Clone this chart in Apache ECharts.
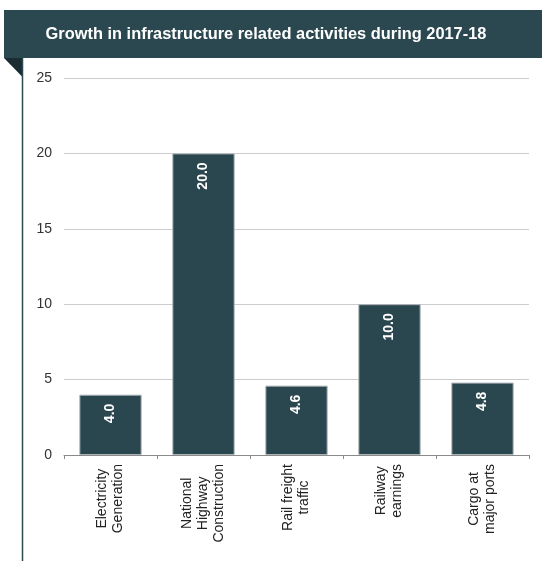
<!DOCTYPE html>
<html>
<head>
<meta charset="utf-8">
<style>
  html, body { margin: 0; padding: 0; background: #fff; }
  #chart { width: 542px; height: 561px; }
</style>
<script src="https://cdn.jsdelivr.net/npm/echarts@6/dist/echarts.min.js"></script>
</head>
<body>
<div id="chart"></div>
<script>
const titleText = 'Growth in infrastructure related activities during 2017-18';
const categories = [
  'Electricity\nGeneration',
  'National\nHighway\nConstruction',
  'Rail freight\ntraffic',
  'Railway\nearnings',
  'Cargo at\nmajor ports'
];
const growthValues = [4.0, 20.0, 4.6, 10.0, 4.8];
const yMin = 0;
const yMax = 25;
const yStep = 5;

const chart = echarts.init(document.getElementById('chart'), null, { renderer: 'canvas' });

const option = {
  animation: false,
  backgroundColor: '#ffffff',
  textStyle: { fontFamily: 'Liberation Sans, Arial, sans-serif' },
  graphic: [
    { type: 'rect', shape: { x: 4, y: 10, width: 538, height: 48 }, style: { fill: '#2b4850' }, silent: true },
    { type: 'polygon', shape: { points: [[4, 58], [22.5, 58], [22.5, 77]] }, style: { fill: '#1b2d32' }, silent: true },
    { type: 'line', shape: { x1: 22.5, y1: 58, x2: 22.5, y2: 561 }, style: { stroke: '#2b4850', lineWidth: 1.5 }, silent: true },
    {
      type: 'text', x: 266, y: 34,
      style: {
        text: titleText, fill: '#ffffff', font: 'bold 16.4px "Liberation Sans", Arial, sans-serif',
        textAlign: 'center', textVerticalAlign: 'middle'
      },
      silent: true
    }
  ],
  grid: { left: 64, right: 13, top: 78, bottom: 106 },
  xAxis: {
    type: 'category',
    data: categories,
    axisLine: { lineStyle: { color: '#8a8a8a', width: 1 } },
    axisTick: { show: true, length: 4, lineStyle: { color: '#8a8a8a' } },
    axisLabel: {
      rotate: 90,
      margin: 9,
      fontSize: 14,
      lineHeight: 16,
      color: '#222',
      formatter: function (v) {
        return v.split('\n').map(function (s) { return '{c|' + s + '}'; }).join('\n');
      },
      rich: {
        c: { align: 'center', fontSize: 14, lineHeight: 16, color: '#222' }
      }
    }
  },
  yAxis: {
    type: 'value',
    min: yMin,
    max: yMax,
    interval: yStep,
    axisLine: { show: false },
    axisTick: { show: false },
    axisLabel: { fontSize: 14, color: '#333', margin: 12 },
    splitLine: { lineStyle: { color: '#cccccc', width: 1 } }
  },
  series: [{
    type: 'bar',
    data: growthValues,
    barWidth: '67%',
    itemStyle: { color: '#2a4750', borderColor: '#aab3b6', borderWidth: 1 },
    label: {
      show: true,
      position: 'insideTop',
      rotate: 90,
      align: 'right',
      verticalAlign: 'middle',
      distance: 9,
      fontSize: 14,
      fontWeight: 'bold',
      color: '#ffffff',
      formatter: function (p) { return p.value.toFixed(1); }
    }
  }]
};

chart.setOption(option);
</script>
</body>
</html>
